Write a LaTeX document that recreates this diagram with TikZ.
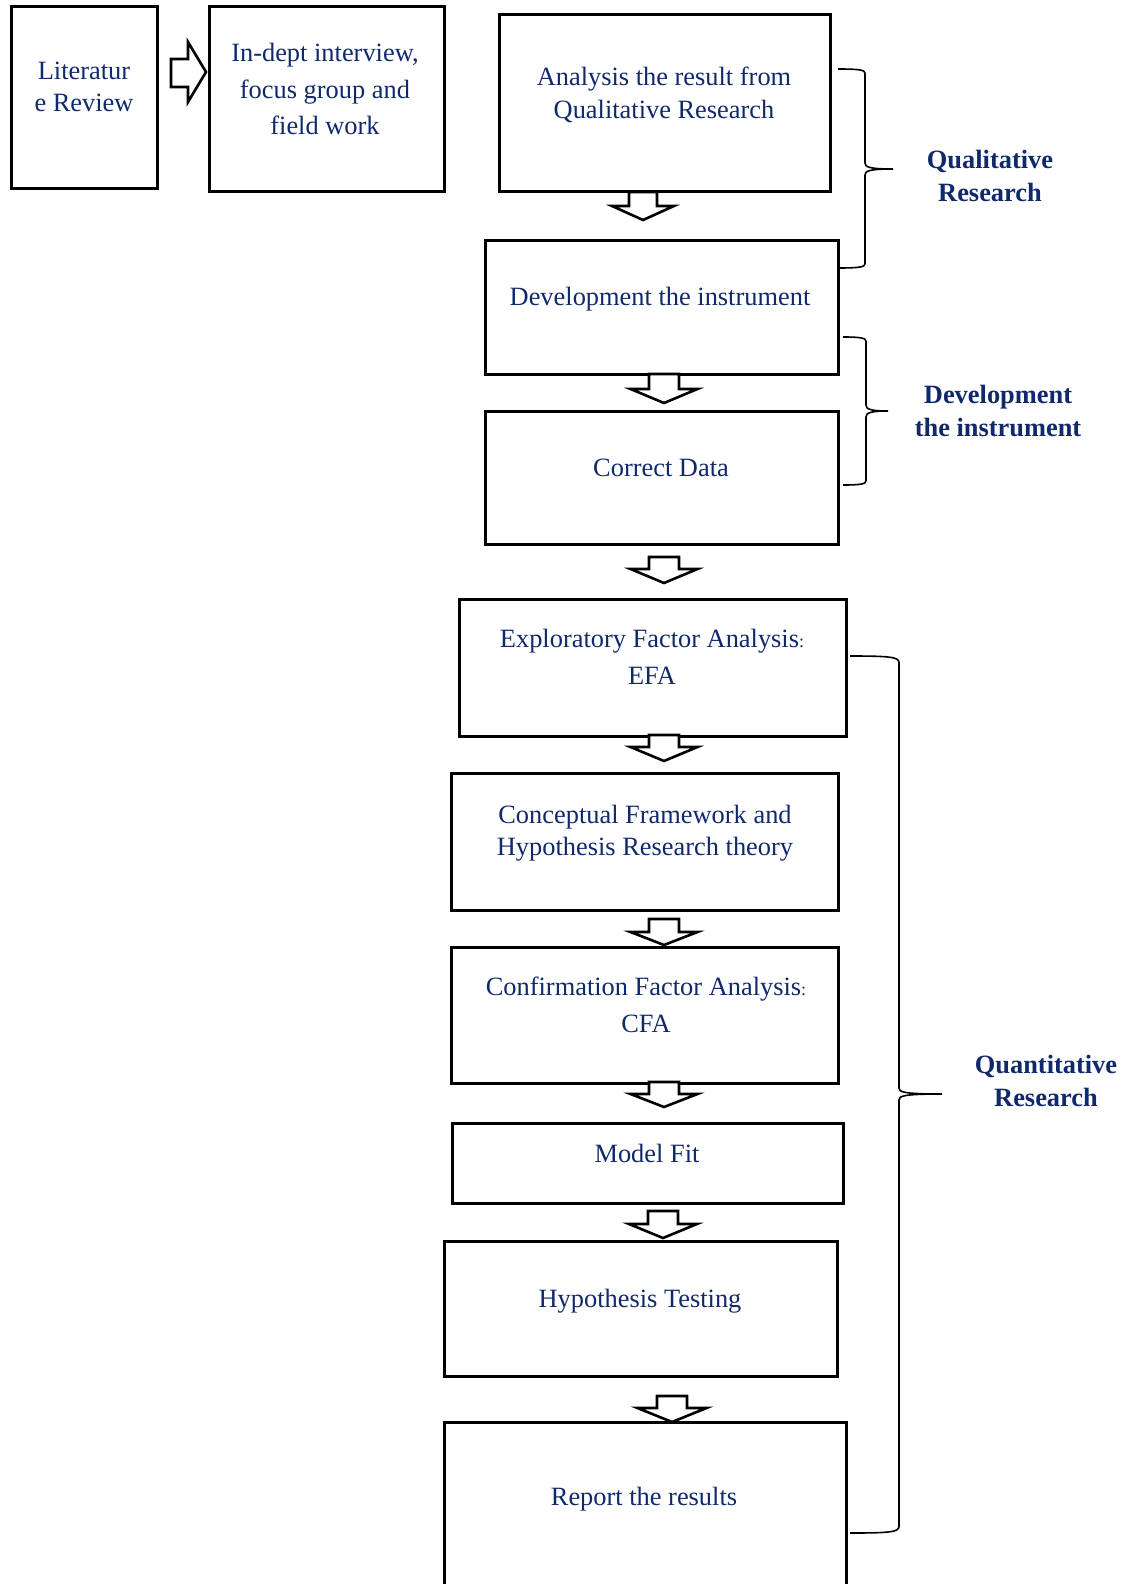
\documentclass[tikz,border=0pt]{standalone}
\usepackage{fontspec}
\setmainfont{Liberation Serif}
\usetikzlibrary{fit}
\definecolor{inknavy}{HTML}{10296A}

% one unit = one pixel of the 1132 x 1584 page, y grows downwards
\tikzset{
  box/.style={draw, line width=1.5pt, inner sep=0pt, fill=none},
  txt/.style={text=inknavy, align=center, inner sep=0pt,
              font=\fontsize{13.2}{16.3}\selectfont},
  wide/.style={font=\fontsize{13.2}{18.2}\selectfont},
  lbl/.style={text=inknavy, align=center, inner sep=0pt,
              font=\bfseries\fontsize{13.2}{16.3}\selectfont},
  blockarrow/.style={draw, line width=1.3pt, fill=white, line join=miter},
  bracket/.style={draw, line width=0.8pt}
}

% rectangle node spanning two corners
\newcommand\stepbox[5]{%
  \path (#2,#3) coordinate (#1-nw) (#4,#5) coordinate (#1-se);
  \node[box, fit=(#1-nw)(#1-se)] (#1) {};}

% hollow down arrow: centre x, body top, head start, tip, body half width, head half width
\newcommand\downblock[6]{%
  \draw[blockarrow] (#1-#5,#2) -- (#1+#5,#2) -- (#1+#5,#3) -- (#1+#6,#3)
    -- (#1,#4) -- (#1-#6,#3) -- (#1-#5,#3) -- cycle;}

% curly bracket: left end x, top y, spine x, tip x, tip y, bottom y, corner length
\newcommand\curlybrace[7]{%
  \draw[bracket] (#1,#2) .. controls (#3-#7*0.4,#2) and (#3,#2+1) .. (#3,#2+#7*0.3)
    -- (#3,#5-6) .. controls (#3,#5-2) and (#3+4,#5) .. (#4,#5)
    .. controls (#3+4,#5) and (#3,#5+2) .. (#3,#5+6)
    -- (#3,#6-#7*0.3) .. controls (#3,#6-1) and (#3-#7*0.4,#6) .. (#1,#6);}

\newcommand\smallcolon{{\fontsize{9}{9}\selectfont:}}

\begin{document}
\begin{tikzpicture}[x=0.5pt,y=-0.5pt]
\useasboundingbox (0,0) rectangle (1132,1584);
\begin{scope}
\clip (0,0) rectangle (1132,1584);

% boxes
\stepbox{lit}{11}{7}{157}{188}
\stepbox{int}{209}{7}{444}{191}
\stepbox{ana}{499}{15}{830}{191}
\stepbox{dev}{485}{240}{838}{374}
\stepbox{cor}{485}{411}{838}{544}
\stepbox{efa}{459}{599}{846}{736}
\stepbox{con}{451}{773}{838}{910}
\stepbox{cfa}{451}{947}{838}{1083}
\stepbox{fit}{452}{1123}{843}{1203}
\stepbox{hyp}{444}{1241}{837}{1376}
\stepbox{rep}{444}{1422}{846}{1620}

% box texts
\node[txt] (lit-t) at (84,87) {Literatur\\e Review};
\node[txt, wide] (int-t) at (325,89) {In-dept interview,\\focus group and\\field work};
\node[txt] (ana-t) at (664,95) {Analysis the result from\\Qualitative Research};
\node[txt] (dev-t) at (660,299) {Development the instrument};
\node[txt] (cor-t) at (661,468) {Correct Data};
\node[txt, wide] (efa-t) at (652,657) {Exploratory Factor Analysis\smallcolon\\EFA};
\node[txt] (con-t) at (645,833) {Conceptual Framework and\\Hypothesis Research theory};
\node[txt, wide] (cfa-t) at (646,1005) {Confirmation Factor Analysis\smallcolon\\CFA};
\node[txt] (fit-t) at (647,1153) {Model Fit};
\node[txt] (hyp-t) at (640,1301) {Hypothesis Testing};
\node[txt] (rep-t) at (644,1499) {Report the results};

% block arrows between the steps
\draw[blockarrow] (171,59) -- (188,59) -- (188,42) -- (206,72)
  -- (188,102) -- (188,87) -- (171,87) -- cycle;
\downblock{643}{192}{206}{220}{14}{31}
\downblock{664}{374}{389}{403}{15}{33.5}
\downblock{664}{557}{569}{583}{15}{33.5}
\downblock{664}{735}{747}{761}{15}{33.5}
\downblock{664}{919}{932}{945}{15}{33.5}
\downblock{664}{1082}{1094}{1107}{15}{33.5}
\downblock{663}{1211}{1224}{1238}{15}{34}
\downblock{672}{1396}{1408}{1422}{15}{34.5}

% brackets grouping the phases
\curlybrace{838}{69}{865}{893}{169}{268}{14}
\curlybrace{843}{337}{866}{888}{411}{485}{14}
\curlybrace{850}{656}{899}{942}{1094}{1533}{22}

\node[lbl] (q1) at (990,176) {Qualitative\\Research};
\node[lbl] (q2) at (998,411) {Development\\the instrument};
\node[lbl] (q3) at (1046,1081) {Quantitative\\Research};
\end{scope}
\end{tikzpicture}
\end{document}
